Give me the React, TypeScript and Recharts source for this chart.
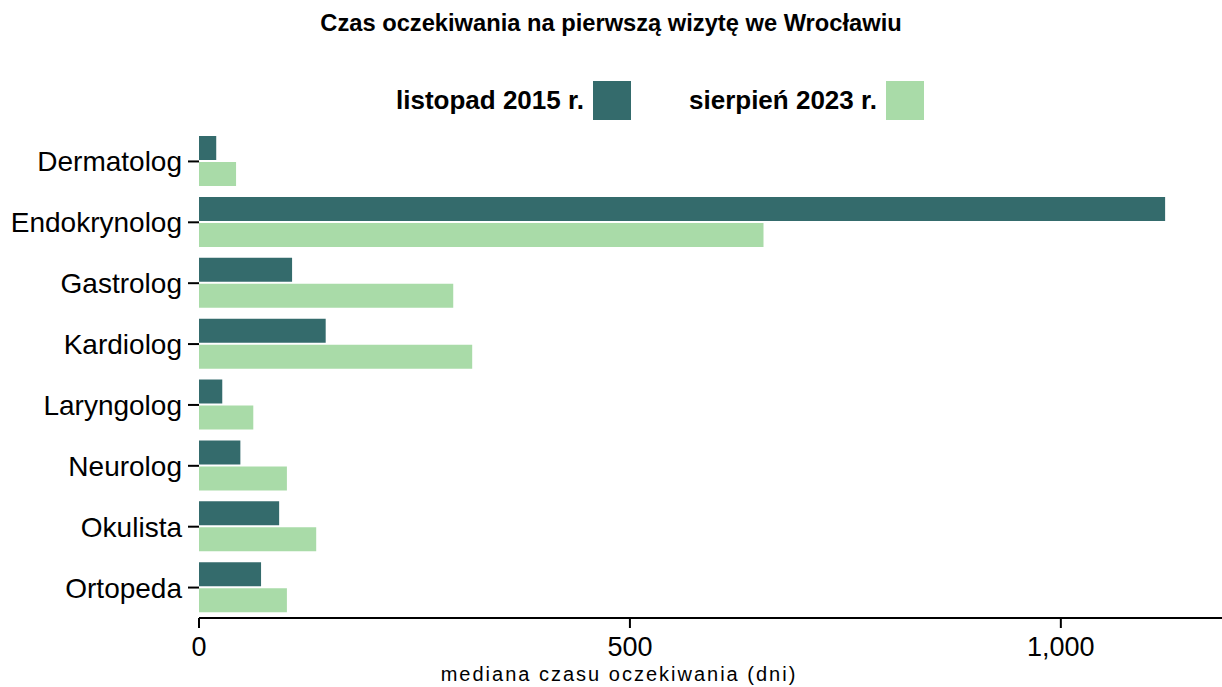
import { BarChart, Bar, XAxis, YAxis } from "recharts";

const specialists = [
  "Dermatolog",
  "Endokrynolog",
  "Gastrolog",
  "Kardiolog",
  "Laryngolog",
  "Neurolog",
  "Okulista",
  "Ortopeda",
];
const waitNov2015 = [20, 1121, 108, 147, 27, 48, 93, 72];
const waitAug2023 = [43, 655, 295, 317, 63, 102, 136, 102];
const xTicks = [0, 500, 1000];

const DARK = "#346b6c";
const LIGHT = "#a9dba8";
const FONT = "'Liberation Sans', Arial, sans-serif";

const data = specialists.map((name, i) => ({
  name,
  y2015: waitNov2015[i],
  y2023: waitAug2023[i],
}));

function LegendItem({ label, color, left }: { label: string; color: string; left: number }) {
  return (
    <div style={{ position: "absolute", left, top: 81, display: "flex", alignItems: "center" }}>
      <span style={{ fontWeight: "bold", fontSize: 26, marginRight: 9 }}>{label}</span>
      <span style={{ width: 38, height: 39, background: color, display: "inline-block" }} />
    </div>
  );
}

export default function App() {
  return (
    <div
      style={{
        position: "absolute",
        left: 0,
        top: 0,
        width: 1222,
        height: 687,
        background: "#fff",
        fontFamily: FONT,
        color: "#000",
      }}
    >
      <div
        style={{
          position: "absolute",
          top: 10,
          left: 0,
          width: 1222,
          textAlign: "center",
          fontWeight: "bold",
          fontSize: 23.7,
        }}
      >
        Czas oczekiwania na pierwszą wizytę we Wrocławiu
      </div>
      <LegendItem label="listopad 2015 r." color={DARK} left={396} />
      <LegendItem label="sierpień 2023 r." color={LIGHT} left={689} />
      <BarChart
        width={1222}
        height={687}
        data={data}
        layout="vertical"
        margin={{ top: 131, right: 0, bottom: 0, left: 0 }}
        barCategoryGap={5}
        barGap={2}
        style={{ position: "absolute", left: 0, top: 0 }}
      >
        <XAxis
          type="number"
          domain={[0, 1187]}
          ticks={xTicks}
          allowDataOverflow
          tickFormatter={(v: number) => v.toLocaleString("en-US")}
          tick={{ fontSize: 27, fill: "#000", fontFamily: FONT }}
          axisLine={{ stroke: "#000", strokeWidth: 2 }}
          tickLine={{ stroke: "#000", strokeWidth: 2 }}
          tickSize={10}
          tickMargin={9}
          height={69}
        />
        <YAxis
          type="category"
          dataKey="name"
          width={199}
          axisLine={false}
          tickLine={{ stroke: "#000", strokeWidth: 2 }}
          tickSize={11}
          tickMargin={6}
          tick={{ fontSize: 28, fill: "#000", fontFamily: FONT }}
        />
        <Bar dataKey="y2015" name="listopad 2015 r." fill={DARK} isAnimationActive={false} />
        <Bar dataKey="y2023" name="sierpień 2023 r." fill={LIGHT} isAnimationActive={false} />
      </BarChart>
      <div
        style={{
          position: "absolute",
          top: 662,
          left: 0,
          width: 1238,
          textAlign: "center",
          fontSize: 20,
          letterSpacing: 2,
          lineHeight: "24px",
        }}
      >
        mediana czasu oczekiwania (dni)
      </div>
    </div>
  );
}
